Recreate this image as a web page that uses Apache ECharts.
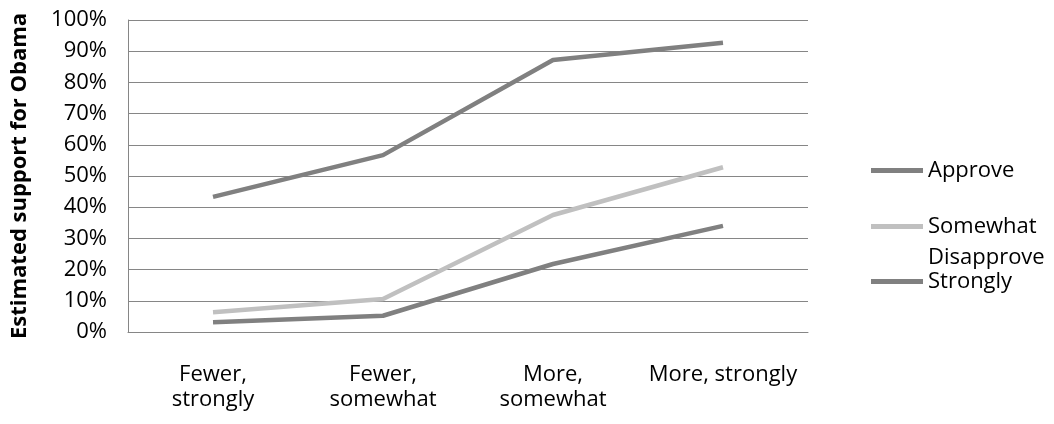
<!DOCTYPE html>
<html>
<head>
<meta charset="utf-8">
<script src="https://cdn.jsdelivr.net/npm/echarts@6/dist/echarts.min.js"></script>
<style>
  html, body { margin: 0; padding: 0; background: #fff; }
  #chart { width: 1054px; height: 424px; }
</style>
</head>
<body>
<div id="chart"></div>
<script>
// Estimated support for Obama by respondent group
var categories = ['Fewer,\nstrongly', 'Fewer,\nsomewhat', 'More,\nsomewhat', 'More, strongly'];
var approve = [43.3, 56.7, 87.2, 92.7];
var somewhatDisapprove = [6.3, 10.6, 37.5, 52.8];
var stronglyDisapprove = [3.1, 5.2, 21.8, 34.0];
var yTicks = [0, 10, 20, 30, 40, 50, 60, 70, 80, 90, 100];

var FONT = '"Open Sans", sans-serif';
var DARK = '#808080';
var LIGHT = '#c0c0c0';
var GRID = '#868686';

// one legend block per series so each entry sits at its own height
function legendBox(name, top, color, text) {
  return {
    show: true,
    data: [name],
    left: 871,
    top: top,
    padding: 0,
    icon: 'rect',
    itemWidth: 52,
    itemHeight: 5,
    itemStyle: { color: color },
    selectedMode: false,
    formatter: function () { return text; },
    textStyle: {
      fontFamily: FONT,
      fontSize: 22,
      color: '#000',
      lineHeight: 31
    }
  };
}

var chart = echarts.init(document.getElementById('chart'), null, { renderer: 'canvas' });
chart.setOption({
  animation: false,
  backgroundColor: '#fff',
  grid: { left: 128, right: 246, top: 20, bottom: 92, containLabel: false },
  legend: [
    legendBox('Approve', 155, DARK, 'Approve'),
    // leading blank line keeps "Somewhat" level with its swatch, "Disapprove" wraps below
    legendBox('Somewhat Disapprove', 180, LIGHT, '\nSomewhat\nDisapprove'),
    legendBox('Strongly', 266, DARK, 'Strongly')
  ],
  xAxis: {
    type: 'category',
    data: categories,
    boundaryGap: true,
    axisLine: { show: true, lineStyle: { color: GRID, width: 1 } },
    axisTick: { show: false },
    axisLabel: {
      interval: 0,
      margin: 30,
      fontFamily: FONT,
      fontSize: 22,
      lineHeight: 25,
      color: '#000',
      align: 'center'
    },
    splitLine: { show: false }
  },
  yAxis: {
    type: 'value',
    min: yTicks[0],
    max: yTicks[yTicks.length - 1],
    interval: 10,
    name: 'Estimated support for Obama',
    nameLocation: 'middle',
    nameGap: 97,
    nameRotate: 90,
    nameTextStyle: {
      fontFamily: FONT,
      fontSize: 22,
      fontWeight: 'bold',
      color: '#000'
    },
    axisLine: { show: true, lineStyle: { color: GRID, width: 1 } },
    axisTick: { show: false },
    axisLabel: {
      margin: 21,
      fontFamily: FONT,
      fontSize: 22,
      color: '#000',
      formatter: '{value}%'
    },
    splitLine: { show: true, lineStyle: { color: GRID, width: 1 } }
  },
  series: [
    {
      name: 'Approve',
      type: 'line',
      data: approve,
      symbol: 'none',
      lineStyle: { color: DARK, width: 4.5 },
      itemStyle: { color: DARK }
    },
    {
      name: 'Somewhat Disapprove',
      type: 'line',
      data: somewhatDisapprove,
      symbol: 'none',
      lineStyle: { color: LIGHT, width: 4.5 },
      itemStyle: { color: LIGHT }
    },
    {
      name: 'Strongly',
      type: 'line',
      data: stronglyDisapprove,
      symbol: 'none',
      lineStyle: { color: DARK, width: 4.5 },
      itemStyle: { color: DARK }
    }
  ]
});
</script>
</body>
</html>
